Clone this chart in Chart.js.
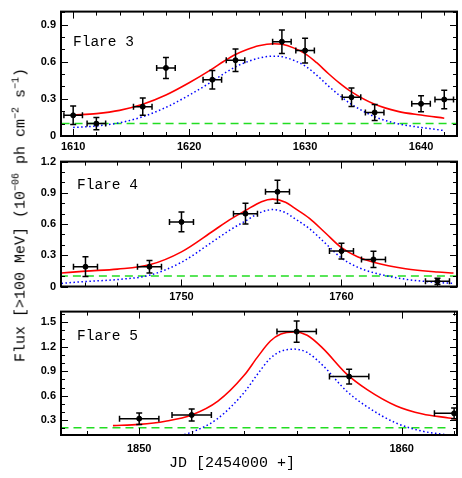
<!DOCTYPE html>
<html>
<head>
<meta charset="utf-8">
<script src="https://cdn.jsdelivr.net/npm/chart.js@4.4.0/dist/chart.umd.min.js"></script>
<style>
body { margin: 0; background: #fff; }
#wrap { position: relative; width: 462px; height: 478px; overflow: hidden; }
.panel { position: absolute; left: 0; width: 462px; }
#ytitle {
    position: absolute; left: 20px; top: 215px;
    transform: translate(-50%, -50%) rotate(-90deg);
    white-space: nowrap; font: 15px "Liberation Mono", monospace; color: #000;
}
#xtitle {
    position: absolute; left: 232px; top: 463px;
    transform: translate(-50%, -50%);
    white-space: nowrap; font: 15px "Liberation Mono", monospace; color: #000;
}
sup { font-size: 10px; }
</style>
</head>
<body>
<div id="wrap">
  <div class="panel" style="top:0px;height:156px"><canvas id="chart3" width="462" height="156"></canvas></div>
  <div class="panel" style="top:150px;height:156px"><canvas id="chart4" width="462" height="156"></canvas></div>
  <div class="panel" style="top:300px;height:178px"><canvas id="chart5" width="462" height="178"></canvas></div>
  <div id="ytitle">Flux [&gt;100 MeV] (10<sup>−06</sup> ph cm<sup>−2</sup> s<sup>−1</sup>)</div>
  <div id="xtitle">JD [2454000 +]</div>
</div>
<script>
// Flare 3
const days3 = [1610, 1612, 1616, 1618, 1622, 1624, 1628, 1630, 1634, 1636, 1640, 1642];
const flux3 = [0.167, 0.10, 0.237, 0.55, 0.455, 0.612, 0.762, 0.69, 0.313, 0.19, 0.26, 0.295];
const err3 = [0.075, 0.05, 0.07, 0.085, 0.075, 0.09, 0.095, 0.1, 0.075, 0.065, 0.065, 0.075];
const dayErr3 = 0.8;
const fitDays3 = [1610, 1612, 1614, 1616, 1618, 1620, 1622, 1623, 1624, 1625, 1626, 1627.3, 1628, 1629, 1630, 1631, 1632, 1633, 1634, 1636, 1638, 1640, 1642];
const fitTotal3 = [0.169, 0.181, 0.207, 0.256, 0.331, 0.43, 0.542, 0.604, 0.659, 0.699, 0.729, 0.745, 0.741, 0.712, 0.666, 0.592, 0.505, 0.425, 0.356, 0.256, 0.199, 0.169, 0.144];
const fitFlare3 = [0.069, 0.081, 0.107, 0.156, 0.231, 0.33, 0.442, 0.504, 0.559, 0.599, 0.629, 0.645, 0.641, 0.612, 0.566, 0.492, 0.405, 0.325, 0.256, 0.156, 0.099, 0.069, 0.044];
const base3 = 0.1;
const baseDays3 = [1609, 1643.1];
const xTicks3 = [1610, 1620, 1630, 1640];
const yTicks3 = [0, 0.3, 0.6, 0.9];

// Flare 4
const days4 = [1744, 1748, 1750, 1754, 1756, 1760, 1762, 1766];
const flux4 = [0.19, 0.19, 0.62, 0.70, 0.91, 0.34, 0.26, 0.05];
const err4 = [0.095, 0.06, 0.095, 0.1, 0.11, 0.075, 0.078, 0.03];
const dayErr4 = 0.75;
const fitDays4 = [1742.5, 1744, 1746, 1748, 1750, 1752, 1753, 1754, 1755, 1755.7, 1756.5, 1757, 1758, 1759, 1760, 1761, 1762, 1764, 1766, 1767];
const fitTotal4 = [0.13, 0.148, 0.167, 0.208, 0.333, 0.536, 0.64, 0.73, 0.815, 0.839, 0.81, 0.76, 0.655, 0.514, 0.373, 0.286, 0.233, 0.17, 0.139, 0.13];
const fitFlare4 = [0.03, 0.048, 0.067, 0.108, 0.233, 0.436, 0.54, 0.63, 0.715, 0.739, 0.71, 0.66, 0.555, 0.414, 0.273, 0.186, 0.133, 0.07, 0.039, 0.03];
const base4 = 0.1;
const baseDays4 = [1742.4, 1767.3];
const xTicks4 = [1750, 1760];
const yTicks4 = [0, 0.3, 0.6, 0.9, 1.2];

// Flare 5
const days5 = [1850, 1852, 1856, 1858, 1862];
const flux5 = [0.32, 0.365, 1.385, 0.835, 0.385];
const err5 = [0.07, 0.073, 0.13, 0.09, 0.065];
const dayErr5 = 0.75;
const fitDays5 = [1849, 1850, 1851, 1852, 1853, 1854, 1854.5, 1855, 1855.4, 1855.9, 1856.4, 1857, 1857.9, 1858.7, 1859.8, 1860.8, 1861.8, 1862.1];
const fitTotal5 = [0.235, 0.25, 0.289, 0.365, 0.534, 0.85, 1.07, 1.27, 1.355, 1.381, 1.34, 1.18, 0.868, 0.672, 0.475, 0.376, 0.329, 0.313];
const fitFlare5 = [0.025, 0.04, 0.079, 0.155, 0.324, 0.64, 0.86, 1.06, 1.145, 1.171, 1.13, 0.97, 0.658, 0.462, 0.265, 0.166, 0.119, 0.103];
const base5 = 0.21;
const baseDays5 = [1847, 1861.7];
const xTicks5 = [1850, 1860];
const yTicks5 = [0.3, 0.6, 0.9, 1.2, 1.5];

function pts(xs, ys) {
    return xs.map((x, i) => ({x: x, y: ys[i]}));
}

// frame, inside ticks, error bars and panel label
const framePlugin = {
    id: 'frame',
    afterDatasetsDraw(chart, args, o) {
        const ctx = chart.ctx, a = chart.chartArea;
        const xs = chart.scales.x, ys = chart.scales.y;

        ctx.save();
        ctx.beginPath();
        ctx.rect(a.left, a.top, a.right - a.left, a.bottom - a.top);
        ctx.clip();
        ctx.strokeStyle = '#000';
        ctx.lineWidth = 1.5;
        chart.data.datasets.forEach(ds => {
            if (!ds.yErr) return;
            ds.data.forEach((p, i) => {
                const px = xs.getPixelForValue(p.x), py = ys.getPixelForValue(p.y);
                const x0 = xs.getPixelForValue(p.x - ds.xErr), x1 = xs.getPixelForValue(p.x + ds.xErr);
                const y0 = ys.getPixelForValue(p.y - ds.yErr[i]), y1 = ys.getPixelForValue(p.y + ds.yErr[i]);
                ctx.beginPath();
                ctx.moveTo(x0, py); ctx.lineTo(x1, py);
                ctx.moveTo(px, y0); ctx.lineTo(px, y1);
                ctx.moveTo(x0, py - 3); ctx.lineTo(x0, py + 3);
                ctx.moveTo(x1, py - 3); ctx.lineTo(x1, py + 3);
                ctx.moveTo(px - 3, y0); ctx.lineTo(px + 3, y0);
                ctx.moveTo(px - 3, y1); ctx.lineTo(px + 3, y1);
                ctx.stroke();
            });
        });
        ctx.restore();

        ctx.save();
        ctx.strokeStyle = '#000';
        ctx.lineWidth = 2;
        ctx.strokeRect(a.left, a.top, a.right - a.left, a.bottom - a.top);
        ctx.lineWidth = 1;
        ctx.beginPath();
        let k0 = Math.ceil(xs.min / o.xMinor - 1e-6);
        for (let k = k0; k * o.xMinor <= xs.max + 1e-6; k++) {
            const v = k * o.xMinor;
            const len = o.xMajor.some(t => Math.abs(t - v) < 1e-6) ? 7 : 4;
            const px = Math.round(xs.getPixelForValue(v)) + 0.5;
            ctx.moveTo(px, a.bottom); ctx.lineTo(px, a.bottom - len);
            ctx.moveTo(px, a.top); ctx.lineTo(px, a.top + len);
        }
        k0 = Math.ceil(ys.min / o.yMinor - 1e-6);
        for (let k = k0; k * o.yMinor <= ys.max + 1e-6; k++) {
            const v = k * o.yMinor;
            const len = o.yMajor.some(t => Math.abs(t - v) < 1e-6) ? 7 : 4;
            const py = Math.round(ys.getPixelForValue(v)) + 0.5;
            ctx.moveTo(a.left, py); ctx.lineTo(a.left + len, py);
            ctx.moveTo(a.right, py); ctx.lineTo(a.right - len, py);
        }
        ctx.stroke();

        ctx.fillStyle = '#000';
        ctx.font = '14.5px "Liberation Mono", monospace';
        ctx.textBaseline = 'middle';
        ctx.fillText(o.label, a.left + o.lx, a.top + o.ly);
        ctx.restore();
    }
};

function makePanel(id, p) {
    const tickFont = {family: 'Liberation Sans', weight: 'bold', size: 11};
    new Chart(document.getElementById(id), {
        type: 'scatter',
        data: {
            datasets: [
                {
                    data: pts(p.days, p.flux),
                    xErr: p.dayErr,
                    yErr: p.err,
                    pointRadius: 2.5,
                    pointBackgroundColor: '#000',
                    pointBorderColor: '#000',
                    showLine: false
                },
                {
                    data: pts(p.fitDays, p.fitTotal),
                    showLine: true,
                    borderColor: '#ff0000',
                    borderWidth: 1.6,
                    pointRadius: 0,
                    cubicInterpolationMode: 'monotone'
                },
                {
                    data: pts(p.fitDays, p.fitFlare),
                    showLine: true,
                    borderColor: '#0000ff',
                    borderWidth: 1.5,
                    borderDash: [1.5, 2.5],
                    pointRadius: 0,
                    cubicInterpolationMode: 'monotone'
                },
                {
                    data: pts(p.baseDays, [p.base, p.base]),
                    showLine: true,
                    borderColor: '#22dd22',
                    borderWidth: 1.5,
                    borderDash: [8, 5],
                    pointRadius: 0
                }
            ]
        },
        options: {
            responsive: false,
            animation: false,
            layout: {padding: {top: p.padTop, right: 1, left: 0, bottom: 0}},
            plugins: {
                legend: {display: false},
                tooltip: {enabled: false},
                frame: {label: p.label, lx: p.lx, ly: p.ly, xMinor: 2, yMinor: 0.1, xMajor: p.xTicks, yMajor: p.yTicks}
            },
            scales: {
                x: {
                    type: 'linear',
                    min: p.xMin, max: p.xMax,
                    afterBuildTicks: s => { s.ticks = p.xTicks.map(v => ({value: v})); },
                    afterFit: s => { s.height = p.xHeight; },
                    grid: {display: false, drawTicks: false},
                    border: {display: false},
                    ticks: {font: tickFont, color: '#000', padding: p.xPad, autoSkip: false, maxRotation: 0, callback: v => String(v)}
                },
                y: {
                    min: p.yMin, max: p.yMax,
                    afterBuildTicks: s => { s.ticks = p.yTicks.map(v => ({value: v})); },
                    afterFit: s => { s.width = 61; },
                    grid: {display: false, drawTicks: false},
                    border: {display: false},
                    ticks: {font: tickFont, color: '#000', padding: 5, autoSkip: false, callback: v => String(v)}
                }
            }
        },
        plugins: [framePlugin]
    });
}

window.onload = () => {
    makePanel('chart3', {
        days: days3, flux: flux3, err: err3, dayErr: dayErr3,
        fitDays: fitDays3, fitTotal: fitTotal3, fitFlare: fitFlare3,
        base: base3, baseDays: baseDays3, xTicks: xTicks3, yTicks: yTicks3,
        xMin: 1608.95, xMax: 1643.1, yMin: 0, yMax: 1.005,
        padTop: 2, xHeight: 20, xPad: 4, label: 'Flare 3', lx: 12, ly: 31
    });
    makePanel('chart4', {
        days: days4, flux: flux4, err: err4, dayErr: dayErr4,
        fitDays: fitDays4, fitTotal: fitTotal4, fitFlare: fitFlare4,
        base: base4, baseDays: baseDays4, xTicks: xTicks4, yTicks: yTicks4,
        xMin: 1742.47, xMax: 1767.22, yMin: 0, yMax: 1.2,
        padTop: 8.5, xHeight: 19.5, xPad: 3.5, label: 'Flare 4', lx: 16, ly: 23.5
    });
    makePanel('chart5', {
        days: days5, flux: flux5, err: err5, dayErr: dayErr5,
        fitDays: fitDays5, fitTotal: fitTotal5, fitFlare: fitFlare5,
        base: base5, baseDays: baseDays5, xTicks: xTicks5, yTicks: yTicks5,
        xMin: 1847.02, xMax: 1862.11, yMin: 0.12, yMax: 1.63,
        padTop: 7.3, xHeight: 43, xPad: 7, label: 'Flare 5', lx: 16, ly: 24.4
    });
};
</script>
</body>
</html>
